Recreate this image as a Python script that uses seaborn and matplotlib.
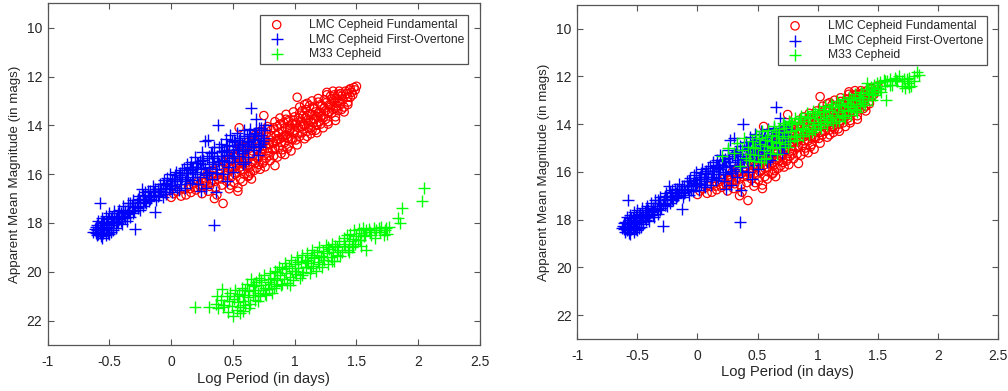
import matplotlib
matplotlib.use("Agg")
import matplotlib.pyplot as plt
import seaborn as sns
import pandas as pd

# ---------------- data ----------------
lmc_fo_logp = [
    -0.63, -0.62, -0.61, -0.60, -0.60, -0.59, -0.59, -0.58, -0.58, -0.57, -0.57, -0.56, -0.56, -0.55, -0.55,
    -0.54, -0.54, -0.53, -0.53, -0.52, -0.52, -0.51, -0.50, -0.50, -0.49, -0.49, -0.48, -0.47, -0.46, -0.46,
    -0.45, -0.44, -0.43, -0.42, -0.42, -0.41, -0.40, -0.39, -0.38, -0.37, -0.36, -0.35, -0.34, -0.33, -0.32,
    -0.31, -0.30, -0.29, -0.28, -0.27, -0.26, -0.25, -0.24, -0.23, -0.22, -0.21, -0.20, -0.19, -0.18, -0.17,
    -0.16, -0.15, -0.14, -0.13, -0.12, -0.11, -0.10, -0.09, -0.08, -0.07, -0.06, -0.05, -0.04, -0.03, -0.02,
    -0.01, 0.00, 0.01, 0.02, 0.03, 0.04, 0.05, 0.06, 0.07, 0.08, 0.09, 0.10, 0.11, 0.12, 0.13,
    0.14, 0.15, 0.16, 0.17, 0.18, 0.19, 0.20, 0.21, 0.22, 0.23, 0.24, 0.25, 0.26, 0.27, 0.28,
    0.29, 0.30, 0.31, 0.32, 0.33, 0.34, 0.35, 0.35, 0.36, 0.37, 0.38, 0.39, 0.40, 0.41, 0.42,
    0.43, 0.44, 0.45, 0.46, 0.47, 0.48, 0.49, 0.50, 0.51, 0.52, 0.53, 0.54, 0.55, 0.56, 0.57,
    0.58, 0.59, 0.60, 0.61, 0.62, 0.63, 0.64, 0.65, 0.66, 0.67, 0.68, 0.69, 0.70, 0.71, 0.72,
    0.73, 0.74, 0.75, 0.76, 0.24, 0.36, 0.28, 0.45, 0.50, 0.60, 0.70, -0.44, -0.36, -0.27,
    -0.18, -0.08, 0.02, 0.12, 0.18, 0.26, 0.33, 0.40, 0.47, 0.55, 0.62, 0.68, -0.58, -0.52, -0.47,
    -0.40, -0.31, -0.22, -0.14, -0.04, 0.06, 0.15, 0.22, 0.31, 0.38, 0.44, 0.52, 0.58, 0.66, 0.73,
    -0.61, -0.59, -0.57, -0.55, -0.53, -0.51, -0.49, -0.47, -0.45, -0.43, -0.41, -0.39, -0.37, -0.35, -0.33,
    -0.31, -0.29, -0.27, -0.25, -0.23, -0.21, -0.19, -0.17, -0.15, -0.13, -0.11, -0.09, -0.07, -0.05, -0.03,
    -0.01, 0.01, 0.03, 0.05, 0.07, 0.09, 0.11, 0.13, 0.15, 0.17, 0.19, 0.21, 0.23, 0.25, 0.27,
    0.29, 0.31, 0.33, 0.35, 0.37, 0.39, 0.41, 0.43, 0.45, 0.47, 0.49, 0.51, 0.53, 0.55, 0.57,
    0.59, 0.61, 0.63, 0.65, 0.67, 0.69, 0.71, 0.73, 0.75, -0.60, -0.56, -0.50,
]
lmc_fo_mag = [
    18.35, 18.25, 18.40, 18.10, 18.30, 17.90, 18.45, 18.20, 17.20, 18.00, 18.55, 18.30, 17.80, 18.10, 18.40,
    17.95, 18.25, 17.70, 18.50, 18.05, 18.30, 17.85, 18.20, 17.60, 18.00, 18.35, 17.75, 18.10, 17.50, 17.90,
    18.20, 17.70, 18.00, 17.45, 17.85, 17.60, 18.05, 17.30, 17.70, 17.50, 17.90, 17.20, 17.55, 17.75, 17.30,
    17.05, 17.50, 18.25, 17.20, 17.40, 16.90, 17.15, 16.60, 17.30, 17.00, 16.75, 17.20, 16.95, 17.10, 16.70,
    16.95, 16.50, 16.85, 17.55, 17.05, 16.60, 16.85, 16.40, 16.70, 16.95, 16.25, 16.55, 16.80, 16.35, 16.60,
    16.00, 16.45, 16.75, 16.20, 16.50, 15.90, 16.30, 16.65, 15.95, 16.40, 16.10, 15.75, 16.55, 16.20, 15.60,
    15.95, 16.35, 15.50, 15.85, 16.10, 15.30, 15.70, 16.00, 16.40, 15.45, 15.80, 15.10, 15.60, 14.65, 15.95,
    15.35, 14.60, 15.70, 15.15, 16.20, 15.50, 18.10, 14.90, 15.80, 15.25, 14.00, 15.60, 14.75, 15.05, 16.00,
    15.40, 14.55, 15.20, 15.70, 14.85, 14.40, 15.35, 15.00, 14.60, 15.50, 14.30, 14.90, 15.25, 14.50, 14.75,
    15.60, 14.20, 14.95, 14.45, 15.30, 14.70, 14.15, 13.30, 14.55, 15.00, 14.30, 13.75, 14.60, 14.10, 14.90,
    14.40, 14.65, 14.20, 14.00, 16.70, 16.75, 16.55, 16.30, 15.90, 15.50, 15.20, 17.95, 17.65, 17.35,
    16.90, 16.60, 16.20, 15.95, 15.70, 15.40, 15.10, 15.25, 15.10, 14.80, 14.65, 14.45, 18.40, 18.15, 17.95,
    17.75, 17.30, 17.05, 16.75, 16.45, 16.05, 15.80, 15.55, 15.90, 15.45, 15.00, 14.70, 15.05, 14.90, 14.75,
    18.15, 18.35, 18.20, 17.95, 18.15, 18.40, 17.80, 18.30, 17.85, 17.60, 17.90, 17.55, 17.80, 17.45, 17.20,
    17.60, 17.35, 17.00, 17.45, 16.85, 17.15, 16.70, 17.00, 16.75, 16.60, 16.90, 16.60, 16.40, 16.75, 16.15,
    16.50, 16.30, 16.05, 16.55, 16.20, 15.85, 16.30, 15.95, 15.70, 16.25, 15.90, 15.55, 16.10, 15.40, 15.75,
    16.05, 15.25, 15.60, 15.35, 15.95, 14.90, 15.45, 15.10, 14.80, 15.50, 14.65, 15.25, 14.95, 14.60, 15.15,
    14.45, 14.85, 14.35, 14.75, 14.45, 14.20, 14.85, 14.10, 14.50, 18.50, 18.60, 18.45,
]

lmc_fu_logp = [
    0.00, 0.02, 0.05, 0.08, 0.10, 0.12, 0.14, 0.16, 0.18, 0.20, 0.22, 0.24, 0.25, 0.26, 0.28,
    0.30, 0.30, 0.32, 0.34, 0.35, 0.36, 0.37, 0.38, 0.40, 0.41, 0.42, 0.43, 0.44, 0.45, 0.46,
    0.47, 0.48, 0.49, 0.50, 0.51, 0.52, 0.53, 0.54, 0.54, 0.55, 0.55, 0.56, 0.57, 0.58, 0.59,
    0.60, 0.61, 0.62, 0.63, 0.64, 0.65, 0.65, 0.66, 0.67, 0.68, 0.69, 0.70, 0.71, 0.72, 0.73,
    0.74, 0.75, 0.75, 0.76, 0.77, 0.78, 0.79, 0.80, 0.81, 0.82, 0.83, 0.84, 0.85, 0.86, 0.87,
    0.88, 0.89, 0.90, 0.91, 0.92, 0.93, 0.94, 0.95, 0.96, 0.97, 0.97, 0.98, 0.99, 1.00, 1.01,
    1.02, 1.02, 1.03, 1.04, 1.05, 1.06, 1.07, 1.08, 1.09, 1.10, 1.11, 1.12, 1.13, 1.14, 1.15,
    1.16, 1.17, 1.18, 1.19, 1.20, 1.21, 1.22, 1.23, 1.24, 1.25, 1.26, 1.27, 1.28, 1.29, 1.30,
    1.31, 1.32, 1.33, 1.34, 1.35, 1.36, 1.37, 1.38, 1.40, 1.42, 1.44, 1.46, 1.48, 1.50, 1.38,
    1.33, 1.23, 1.13, 0.44, 0.50, 0.56, 0.62, 0.68, 0.72, 0.78, 0.84, 0.88, 0.93, 0.99, 1.04,
    1.08, 1.14, 1.19, 1.26, 1.31, 0.58, 0.66, 0.74, 0.82, 0.90, 0.96, 1.06, 1.16, 1.27, 1.43,
    0.39, 0.47, 0.53, 0.60, 0.70, 0.79, 0.86, 0.94, 1.01, 1.10, 1.21, 1.35, 1.45, 0.27, 0.33,
    0.15, 0.19, 0.23, 0.27, 0.29, 0.31, 0.33, 0.36, 0.39, 0.41, 0.43, 0.45, 0.47, 0.49, 0.51,
    0.53, 0.55, 0.57, 0.58, 0.59, 0.61, 0.62, 0.63, 0.64, 0.66, 0.67, 0.68, 0.70, 0.71, 0.72,
    0.73, 0.74, 0.76, 0.77, 0.78, 0.79, 0.80, 0.81, 0.83, 0.84, 0.85, 0.86, 0.87, 0.88, 0.89,
    0.90, 0.91, 0.92, 0.93, 0.94, 0.95, 0.96, 0.98, 0.99, 1.00, 1.01, 1.03, 1.04, 1.05, 1.06,
    1.07, 1.08, 1.09, 1.10, 1.11, 1.12, 1.13, 1.14, 1.15, 1.16, 1.17, 1.18, 1.19, 1.20, 1.21,
    1.22, 1.24, 1.25, 1.26, 1.28, 1.29, 1.30, 1.31, 1.32, 1.34, 1.35, 1.36, 1.37, 1.39, 1.41,
    1.43, 1.45, 1.47, 1.49, 0.35, 0.44, 0.48, 0.52, 0.56, 0.60, 0.64, 0.69, 0.74, 0.79, 0.83,
    0.92, 0.95, 1.02, 1.10, 1.18, 1.27, 1.33, 1.40, 1.43,
]
lmc_fu_mag = [
    16.95, 16.80, 16.70, 16.90, 16.60, 16.85, 16.50, 16.75, 16.40, 16.65, 16.30, 16.55, 16.80, 16.20, 16.45,
    16.10, 16.70, 16.35, 15.95, 17.00, 16.55, 16.85, 16.20, 15.80, 16.45, 17.20, 16.05, 15.60, 16.30, 15.85,
    16.60, 15.45, 16.10, 15.70, 16.35, 15.30, 15.95, 16.55, 16.70, 15.55, 14.10, 16.20, 15.15, 15.80, 16.00,
    15.35, 14.95, 15.65, 16.05, 15.20, 16.20, 14.80, 15.50, 15.85, 14.65, 15.30, 15.05, 15.60, 14.50, 15.15,
    14.85, 13.60, 15.45, 15.70, 14.35, 14.95, 15.25, 14.60, 14.20, 15.00, 14.75, 15.65, 14.40, 14.05, 14.90,
    14.55, 15.15, 14.25, 13.90, 14.70, 14.40, 14.95, 13.80, 14.15, 15.05, 14.55, 13.95, 14.35, 13.65, 14.60,
    12.85, 14.80, 14.10, 13.50, 13.85, 14.30, 13.60, 14.00, 13.35, 14.45, 13.75, 13.20, 14.10, 13.55, 13.90,
    13.30, 14.20, 13.65, 13.05, 13.45, 13.95, 13.20, 13.70, 12.95, 13.40, 12.65, 13.85, 13.15, 12.80, 13.50,
    13.00, 12.75, 13.30, 12.90, 13.40, 12.60, 13.10, 12.80, 13.25, 12.70, 12.55, 12.65, 12.45, 12.40, 13.35,
    13.65, 14.10, 14.35, 15.20, 15.00, 14.85, 14.70, 14.40, 14.25, 14.05, 13.85, 13.70, 13.55, 13.45, 13.25,
    13.15, 13.00, 12.90, 12.75, 12.60, 15.55, 15.25, 14.95, 14.70, 14.50, 14.20, 14.05, 13.75, 13.45, 13.05,
    16.00, 15.70, 15.45, 15.55, 15.35, 14.80, 14.55, 14.10, 13.95, 13.60, 13.65, 13.00, 12.85, 16.30, 16.05,
    16.60, 16.55, 16.45, 16.35, 16.00, 16.50, 15.85, 16.10, 15.65, 16.20, 15.50, 15.95, 15.35, 15.80, 15.20,
    15.65, 15.05, 15.50, 16.30, 14.90, 15.40, 16.10, 14.80, 15.70, 15.05, 14.60, 15.55, 14.45, 15.25, 15.80,
    14.30, 15.00, 14.60, 15.35, 14.15, 14.75, 15.45, 14.45, 14.10, 14.95, 14.65, 15.30, 14.30, 13.95, 14.70,
    15.00, 14.45, 14.10, 13.75, 14.50, 14.85, 14.00, 14.60, 13.80, 14.20, 13.90, 13.70, 14.45, 14.05, 13.40,
    13.95, 14.55, 13.70, 13.10, 14.10, 13.55, 13.85, 14.20, 13.25, 13.75, 13.45, 14.00, 13.50, 13.85, 13.15,
    13.60, 13.30, 13.75, 13.05, 13.45, 13.25, 12.90, 13.35, 13.05, 13.20, 12.75, 13.00, 12.70, 12.95, 12.60,
    12.85, 12.50, 12.75, 12.55, 16.30, 16.05, 16.45, 16.00, 15.85, 15.65, 15.95, 15.75, 15.55, 15.10, 15.25,
    15.20, 14.55, 14.35, 14.25, 14.30, 13.95, 13.80, 13.45, 13.15,
]

# M33 Cepheids, left panel (as observed)
m33_logp = [
    0.19, 0.31, 0.36, 0.37, 0.38, 0.40, 0.41, 0.43, 0.45, 0.46, 0.48, 0.49, 0.50, 0.51, 0.52,
    0.53, 0.54, 0.55, 0.56, 0.57, 0.58, 0.59, 0.60, 0.61, 0.62, 0.63, 0.64, 0.65, 0.66, 0.67,
    0.68, 0.69, 0.70, 0.71, 0.72, 0.73, 0.74, 0.75, 0.76, 0.77, 0.78, 0.79, 0.80, 0.81, 0.82,
    0.83, 0.84, 0.85, 0.86, 0.87, 0.88, 0.89, 0.90, 0.91, 0.92, 0.93, 0.94, 0.95, 0.96, 0.97,
    0.98, 0.99, 1.00, 1.01, 1.02, 1.03, 1.04, 1.05, 1.06, 1.07, 1.08, 1.09, 1.10, 1.11, 1.12,
    1.13, 1.14, 1.15, 1.16, 1.17, 1.18, 1.19, 1.20, 1.21, 1.22, 1.23, 1.24, 1.25, 1.26, 1.27,
    1.28, 1.29, 1.30, 1.31, 1.32, 1.33, 1.34, 1.35, 1.36, 1.38, 1.40, 1.41, 1.42, 1.43, 1.44,
    1.45, 1.46, 1.47, 1.48, 1.49, 1.50, 1.52, 1.53, 1.54, 1.55, 1.56, 1.58, 1.58, 1.60, 1.62,
    1.64, 1.66, 1.68, 1.70, 1.72, 1.74, 1.75, 1.76, 1.84, 1.85, 1.87, 2.03, 2.05,
    0.42, 0.47, 0.53, 0.56, 0.60, 0.63, 0.66, 0.70, 0.73, 0.76, 0.80, 0.83, 0.86, 0.90, 0.93,
    0.96, 1.00, 1.03, 1.06, 1.10, 1.13, 1.16, 1.20, 1.23, 1.27, 1.30, 1.34, 1.37, 1.40, 1.44,
    1.47, 1.51, 1.54, 1.57, 1.61, 1.65, 1.69, 1.73, 0.58, 0.68,
]
m33_mag = [
    21.45, 21.45, 21.30, 21.00, 21.50, 21.15, 20.70, 21.35, 21.00, 21.65, 20.85, 21.40, 21.80, 21.10, 20.75,
    21.55, 21.25, 20.90, 21.45, 20.65, 21.20, 20.95, 21.35, 20.50, 21.05, 20.80, 21.30, 20.30, 20.95, 20.60,
    21.15, 20.40, 20.85, 20.25, 21.00, 20.55, 20.75, 20.15, 20.65, 20.95, 20.40, 20.70, 20.05, 20.50, 20.85,
    20.25, 19.95, 20.60, 20.35, 19.80, 20.15, 20.55, 19.90, 20.30, 19.65, 20.05, 20.45, 19.75, 20.20, 19.50,
    19.95, 20.35, 19.70, 20.10, 19.40, 19.85, 20.25, 19.60, 19.30, 20.00, 19.55, 19.80, 19.25, 19.65, 20.05,
    19.40, 19.10, 19.75, 19.45, 19.95, 19.20, 19.60, 19.00, 19.35, 19.80, 19.15, 19.50, 18.90, 19.25, 19.70,
    19.05, 19.40, 18.85, 19.20, 19.55, 18.95, 19.30, 19.10, 18.75, 19.20, 18.60, 18.95, 18.50, 19.10, 18.75,
    18.45, 19.00, 18.65, 18.30, 18.85, 18.55, 18.25, 18.70, 18.40, 18.20, 18.55, 19.10, 18.30, 18.25, 18.50,
    18.20, 18.30, 18.20, 18.15, 18.50, 18.20, 18.45, 18.15, 17.80, 18.00, 17.40, 17.10, 16.55,
    21.45, 21.20, 21.00, 21.70, 20.75, 21.50, 20.55, 21.20, 20.35, 20.90, 20.30, 20.65, 20.00, 20.50, 19.85,
    20.55, 19.95, 19.60, 20.15, 19.50, 19.85, 19.30, 19.70, 19.40, 19.00, 19.55, 19.00, 19.35, 18.85, 19.20,
    18.95, 18.70, 18.95, 18.50, 18.35, 18.60, 18.35, 18.30, 21.60, 20.75,
]

# M33 Cepheids, right panel (corrected)
m33c_logp = [
    0.20, 0.25, 0.30, 0.33, 0.35, 0.37, 0.39, 0.40, 0.42, 0.44, 0.45, 0.47, 0.48, 0.49, 0.50,
    0.52, 0.53, 0.54, 0.55, 0.56, 0.57, 0.58, 0.59, 0.60, 0.61, 0.62, 0.63, 0.64, 0.65, 0.66,
    0.67, 0.68, 0.69, 0.70, 0.71, 0.72, 0.73, 0.74, 0.75, 0.76, 0.77, 0.78, 0.79, 0.80, 0.81,
    0.82, 0.83, 0.84, 0.85, 0.86, 0.87, 0.88, 0.89, 0.90, 0.91, 0.92, 0.93, 0.94, 0.95, 0.96,
    0.97, 0.98, 0.99, 1.00, 1.01, 1.02, 1.03, 1.04, 1.05, 1.06, 1.07, 1.08, 1.09, 1.10, 1.11,
    1.12, 1.13, 1.14, 1.15, 1.16, 1.17, 1.18, 1.19, 1.20, 1.21, 1.22, 1.23, 1.24, 1.25, 1.26,
    1.27, 1.28, 1.29, 1.30, 1.31, 1.32, 1.33, 1.34, 1.35, 1.36, 1.37, 1.38, 1.39, 1.40, 1.41,
    1.42, 1.43, 1.44, 1.45, 1.46, 1.47, 1.48, 1.50, 1.52, 1.53, 1.55, 1.56, 1.57, 1.58, 1.60,
    1.62, 1.64, 1.66, 1.68, 1.70, 1.72, 1.73, 1.75, 1.76, 1.78, 1.80, 1.83, 1.84,
    0.43, 0.46, 0.51, 0.55, 0.58, 0.62, 0.65, 0.68, 0.72, 0.75, 0.78, 0.82, 0.85, 0.88, 0.92,
    0.95, 0.98, 1.02, 1.05, 1.08, 1.12, 1.15, 1.18, 1.22, 1.25, 1.28, 1.32, 1.35, 1.38, 1.42,
    1.45, 1.49, 1.52, 1.56, 1.60, 1.65, 1.70, 1.76, 1.80, 1.74,
]
m33c_mag = [
    15.35, 15.00, 15.20, 14.80, 15.75, 15.10, 14.60, 15.40, 14.95, 15.25, 14.70, 15.55, 15.00, 14.45, 15.30,
    14.85, 15.60, 14.30, 15.10, 14.65, 15.40, 14.90, 14.25, 15.20, 14.70, 14.45, 15.00, 14.10, 14.80, 15.25,
    14.50, 14.20, 14.95, 14.60, 13.95, 14.35, 14.85, 14.15, 14.50, 13.85, 14.70, 14.30, 14.00, 14.55, 13.75,
    14.25, 14.65, 13.95, 14.40, 13.65, 14.15, 14.50, 13.85, 14.30, 13.55, 14.05, 14.40, 13.75, 14.15, 13.45,
    13.90, 14.25, 13.60, 14.00, 13.35, 13.80, 14.15, 13.50, 13.90, 13.25, 13.70, 14.05, 13.40, 13.80, 13.15,
    13.60, 13.95, 13.30, 13.70, 13.05, 13.50, 13.85, 13.20, 13.60, 12.95, 13.40, 13.75, 13.10, 13.45, 12.85,
    13.30, 13.60, 13.00, 13.35, 12.75, 13.15, 13.50, 12.90, 13.25, 12.65, 13.05, 12.80, 13.20, 12.55, 12.30,
    12.90, 12.70, 12.45, 13.00, 12.60, 12.35, 12.80, 12.50, 12.25, 12.65, 12.15, 12.40, 12.98, 12.20, 12.10,
    12.35, 12.05, 12.20, 12.00, 12.40, 12.10, 12.50, 12.30, 12.05, 12.40, 12.00, 11.81, 11.95,
    15.50, 14.95, 14.60, 15.45, 14.55, 14.95, 14.35, 14.75, 14.05, 14.95, 13.90, 14.50, 13.80, 14.20, 13.70,
    14.35, 13.55, 14.05, 13.45, 13.85, 13.30, 13.85, 13.15, 13.65, 13.25, 12.95, 13.40, 12.85, 13.10, 12.55,
    12.75, 12.30, 12.55, 12.20, 12.35, 12.15, 12.20, 12.45, 12.20, 12.10,
]

labels = ["LMC Cepheid Fundamental", "LMC Cepheid First-Overtone", "M33 Cepheid"]
x_ticks = [-1, -0.5, 0, 0.5, 1, 1.5, 2, 2.5]
x_tick_labels = ["-1", "-0.5", "0", "0.5", "1", "1.5", "2", "2.5"]
y_ticks = [10, 12, 14, 16, 18, 20, 22]
y_tick_labels = ["10", "12", "14", "16", "18", "20", "22"]

# ---------------- style ----------------
sns.set_style("white")
plt.rcParams["font.family"] = ["Liberation Sans", "DejaVu Sans"]
plt.rcParams["axes.unicode_minus"] = False

fu = pd.DataFrame({"logp": lmc_fu_logp, "mag": lmc_fu_mag})
fo = pd.DataFrame({"logp": lmc_fo_logp, "mag": lmc_fo_mag})

fig = plt.figure(figsize=(10.08, 3.91), dpi=100)
ax1 = fig.add_axes([0.0473, 0.1176, 0.4289, 0.874])
ax2 = fig.add_axes([0.5727, 0.1330, 0.4174, 0.855])

text_col = "#262626"

def panel(ax, m33x, m33y):
    m33 = pd.DataFrame({"logp": m33x, "mag": m33y})
    sns.scatterplot(data=fu, x="logp", y="mag", ax=ax, marker="o", s=36,
                    facecolors="none", edgecolors="#ff0000", linewidths=0.9,
                    label=labels[0])
    sns.scatterplot(data=fo, x="logp", y="mag", ax=ax, marker="+", s=64,
                    color="#0000ff", linewidth=1.0, label=labels[1])
    sns.scatterplot(data=m33, x="logp", y="mag", ax=ax, marker="+", s=64,
                    color="#00ff00", linewidth=1.0, label=labels[2])
    ax.set_xlim(-1, 2.5)
    ax.set_ylim(23, 9)
    ax.set_xticks(x_ticks)
    ax.set_xticklabels(x_tick_labels)
    ax.set_yticks(y_ticks)
    ax.set_yticklabels(y_tick_labels)
    ax.tick_params(direction="in", length=4, width=0.8, colors="#555555",
                   labelcolor=text_col, labelsize=10, top=True, right=True,
                   bottom=True, left=True)
    ax.tick_params(axis="x", pad=7)
    ax.tick_params(axis="y", pad=4)
    for sp in ax.spines.values():
        sp.set_visible(True)
        sp.set_color("#555555")
        sp.set_linewidth(0.9)
    ax.set_xlabel("Log Period (in days)", fontsize=10.6, color=text_col, labelpad=2)
    ax.set_ylabel("Apparent Mean Magnitude (in mags)", fontsize=9.6, color=text_col, labelpad=4)
    leg = ax.legend(loc="upper right", bbox_to_anchor=(0.973, 0.965), fontsize=8.7,
                    frameon=True, fancybox=False, edgecolor="#262626",
                    borderpad=0.3, labelspacing=0.22, handletextpad=1.6,
                    handlelength=2.2, borderaxespad=0.0)
    leg.get_frame().set_linewidth(0.9)

panel(ax1, m33_logp, m33_mag)
panel(ax2, m33c_logp, m33c_mag)

fig.savefig("out.png", dpi=100, facecolor="white")
